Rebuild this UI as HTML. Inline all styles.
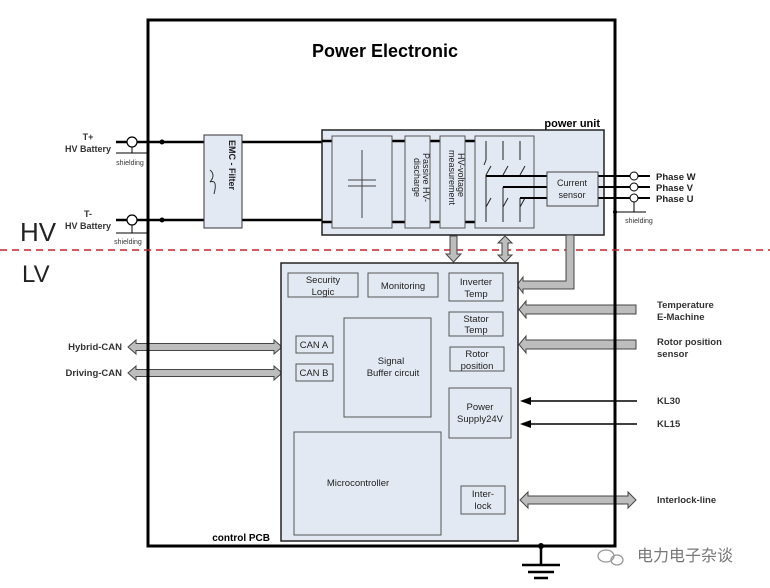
<!DOCTYPE html><html><head><meta charset="utf-8"><style>body{margin:0;background:#fff}svg{display:block}text{font-family:"Liberation Sans",Arial,sans-serif}</style></head><body>
<svg width="770" height="588" viewBox="0 0 770 588" xmlns="http://www.w3.org/2000/svg">
<rect x="0" y="0" width="770" height="588" fill="#fff"/>
<rect x="148" y="20" width="467" height="526" fill="none" stroke="#000" stroke-width="3"/>
<text x="385" y="57" font-size="18" font-weight="bold" text-anchor="middle">Power Electronic</text>
<g stroke="#000" fill="none">
<line x1="116" y1="142" x2="322" y2="142" stroke-width="2.5"/>
<line x1="116" y1="220" x2="322" y2="220" stroke-width="2.5"/>
<circle cx="132" cy="142" r="5" stroke-width="1.2" fill="#fff"/>
<circle cx="132" cy="220" r="5" stroke-width="1.2" fill="#fff"/>
<line x1="132" y1="147" x2="132" y2="153" stroke-width="1"/>
<line x1="116" y1="153" x2="147" y2="153" stroke-width="1"/>
<line x1="132" y1="225" x2="132" y2="233" stroke-width="1"/>
<line x1="116" y1="233" x2="148" y2="233" stroke-width="1"/>
</g>
<circle cx="162" cy="142" r="2.5"/><circle cx="162" cy="220" r="2.5"/>
<g font-size="9" font-weight="bold" fill="#333" text-anchor="middle">
<text x="88" y="140">T+</text><text x="88" y="152">HV Battery</text>
<text x="88" y="217">T-</text><text x="88" y="229">HV Battery</text>
</g>
<g font-size="7" fill="#333" text-anchor="middle"><text x="130" y="165">shielding</text><text x="128" y="244">shielding</text><text x="639" y="223">shielding</text></g>
<text x="20" y="241" font-size="26" fill="#222">HV</text>
<text x="22" y="282" font-size="24" fill="#222">LV</text>
<rect x="204" y="135" width="38" height="93" fill="#e3e9f3" stroke="#333"/>
<text transform="translate(229,140) rotate(90)" font-size="9" font-weight="bold" fill="#222">EMC - Filter</text>
<path d="M210 170 q6 5 0 12 q8 -3 4 12" stroke="#333" fill="none"/>
<text x="600" y="127" font-size="11" font-weight="bold" text-anchor="end">power unit</text>
<rect x="322" y="130" width="282" height="105" fill="#e3e9f3" stroke="#222" stroke-width="1.5"/>
<line x1="322" y1="141" x2="522" y2="141" stroke="#000" stroke-width="2.5"/>
<line x1="322" y1="222" x2="522" y2="222" stroke="#000" stroke-width="2.5"/>
<rect x="332" y="136" width="60" height="92" fill="#e3e9f3" stroke="#555"/>
<line x1="362" y1="150" x2="362" y2="218" stroke="#444"/>
<line x1="348" y1="180" x2="376" y2="180" stroke="#444"/><line x1="348" y1="186" x2="376" y2="186" stroke="#444"/>
<rect x="405" y="136" width="25" height="92" fill="#e3e9f3" stroke="#555"/>
<rect x="440" y="136" width="25" height="92" fill="#e3e9f3" stroke="#555"/>
<text transform="translate(423,153) rotate(90)" font-size="9" fill="#222">Passive HV-</text>
<text transform="translate(414,158) rotate(90)" font-size="9" fill="#222">discharge</text>
<text transform="translate(458,153) rotate(90)" font-size="9" fill="#222">HV-voltage</text>
<text transform="translate(449,150) rotate(90)" font-size="9" fill="#222">measurement</text>
<rect x="475" y="136" width="59" height="92" fill="#e3e9f3" stroke="#555"/>
<g stroke="#222" stroke-width="1">
<line x1="486" y1="141" x2="486" y2="160"/><line x1="503" y1="141" x2="503" y2="160"/><line x1="520" y1="141" x2="520" y2="160"/>
<line x1="486" y1="160" x2="484" y2="165"/>
<line x1="486" y1="175" x2="491" y2="166"/><line x1="503" y1="175" x2="508" y2="166"/><line x1="520" y1="175" x2="525" y2="166"/>
<line x1="486" y1="207" x2="491" y2="198"/><line x1="503" y1="207" x2="508" y2="198"/><line x1="520" y1="207" x2="525" y2="198"/>
<line x1="486" y1="175" x2="486" y2="222"/><line x1="503" y1="187" x2="503" y2="222"/><line x1="520" y1="198" x2="520" y2="222"/>
</g>
<g stroke="#000" stroke-width="2">
<line x1="486" y1="176" x2="547" y2="176"/><line x1="503" y1="187" x2="547" y2="187"/><line x1="520" y1="198" x2="547" y2="198"/>
<line x1="598" y1="176" x2="650" y2="176"/><line x1="598" y1="187" x2="650" y2="187"/><line x1="598" y1="198" x2="650" y2="198"/>
</g>
<rect x="547" y="172" width="51" height="34" fill="#e3e9f3" stroke="#444"/>
<text x="572" y="186" font-size="9" text-anchor="middle" fill="#222">Current</text>
<text x="572" y="198" font-size="9" text-anchor="middle" fill="#222">sensor</text>
<g stroke="#000" fill="#fff" stroke-width="1"><circle cx="634" cy="176" r="4"/><circle cx="634" cy="187" r="4"/><circle cx="634" cy="198" r="4"/><line x1="634" y1="202" x2="634" y2="212"/><line x1="615" y1="212" x2="646" y2="212"/></g>
<circle cx="615" cy="212" r="2"/>
<g font-size="9.5" font-weight="bold" fill="#222"><text x="656" y="180">Phase W</text><text x="656" y="191">Phase V</text><text x="656" y="202">Phase U</text></g>
<line x1="0" y1="250" x2="770" y2="250" stroke="#c0272d" stroke-width="1.5" stroke-dasharray="7,5"/>
<g fill="#bdbdbd" stroke="#444" stroke-width="1">
<path d="M450 236 h7 v18 h4 l-7.5 8 l-7.5 -8 h4 z"/>
<path d="M505 236 l-7 7 h4 v12 h-4 l7 7 l7 -7 h-4 v-12 h4 z"/>
<path d="M566 235 h8 v54 h-51 v4 l-6 -8 l6 -8 v4 h43 z"/>
<path d="M636 305 v9 h-110 v4 l-7 -8.5 l7 -8.5 v4 z"/>
<path d="M636 340 v9 h-110 v4 l-7 -8.5 l7 -8.5 v4 z"/>
<path d="M520 500 l8 -8 v4 h100 v-4 l8 8 l-8 8 v-4 h-100 v4 z"/>
<path d="M128 347 l8 -7 v3.5 h138 v-3.5 l8 7 l-8 7 v-3.5 h-138 v3.5 z"/>
<path d="M128 373 l8 -7 v3.5 h138 v-3.5 l8 7 l-8 7 v-3.5 h-138 v3.5 z"/>
</g>
<line x1="148" y1="335" x2="148" y2="385" stroke="#000" stroke-width="3"/>
<line x1="615" y1="295" x2="615" y2="510" stroke="#000" stroke-width="3"/>
<g stroke="#000" stroke-width="1.5"><line x1="530" y1="401" x2="637" y2="401"/><line x1="530" y1="424" x2="637" y2="424"/></g>
<path d="M520 401 l11 -4 v8 z M520 424 l11 -4 v8 z"/>
<rect x="281" y="263" width="237" height="278" fill="#e3e9f3" stroke="#222" stroke-width="1.5"/>
<text x="270" y="541" font-size="10" font-weight="bold" text-anchor="end">control PCB</text>
<g fill="#e3e9f3" stroke="#555">
<rect x="288" y="273" width="70" height="24"/><rect x="368" y="273" width="70" height="24"/>
<rect x="449" y="273" width="54" height="28"/><rect x="449" y="312" width="54" height="24"/>
<rect x="450" y="347" width="54" height="24"/><rect x="344" y="318" width="87" height="99"/>
<rect x="296" y="336" width="37" height="17"/><rect x="296" y="364" width="37" height="17"/>
<rect x="449" y="388" width="62" height="50"/><rect x="294" y="432" width="147" height="103"/>
<rect x="461" y="486" width="44" height="28"/>
</g>
<g font-size="9.5" fill="#222" text-anchor="middle">
<text x="323" y="283">Security</text><text x="323" y="295">Logic</text>
<text x="403" y="289">Monitoring</text>
<text x="476" y="285">Inverter</text><text x="476" y="297">Temp</text>
<text x="476" y="322">Stator</text><text x="476" y="333">Temp</text>
<text x="477" y="357">Rotor</text><text x="477" y="369">position</text>
<text x="391" y="364">Signal</text><text x="393" y="376">Buffer circuit</text>
<text x="314" y="348">CAN A</text><text x="314" y="376">CAN B</text>
<text x="480" y="410">Power</text><text x="480" y="422">Supply24V</text>
<text x="358" y="486">Microcontroller</text>
<text x="483" y="497">Inter-</text><text x="483" y="509">lock</text>
</g>
<g font-size="9.5" font-weight="bold" fill="#333">
<text x="657" y="308">Temperature</text><text x="657" y="320">E-Machine</text>
<text x="657" y="345">Rotor position</text><text x="657" y="357">sensor</text>
<text x="657" y="404">KL30</text><text x="657" y="427">KL15</text>
<text x="657" y="503">Interlock-line</text>
<text x="122" y="350" text-anchor="end">Hybrid-CAN</text><text x="122" y="376" text-anchor="end">Driving-CAN</text>
</g>
<circle cx="541" cy="546" r="3"/>
<g stroke="#000" stroke-width="2.5"><line x1="541" y1="546" x2="541" y2="565"/><line x1="522" y1="565" x2="560" y2="565"/><line x1="528" y1="572" x2="554" y2="572"/><line x1="534" y1="578" x2="548" y2="578"/></g>
<g fill="none" stroke="#999" stroke-width="1.3"><ellipse cx="606" cy="556" rx="8" ry="6"/><ellipse cx="617" cy="560" rx="6" ry="5"/></g>
<text x="637" y="561" font-size="16" fill="#777" font-family="'Liberation Sans','Noto Sans CJK SC',sans-serif">电力电子杂谈</text>
</svg>
</body></html>
